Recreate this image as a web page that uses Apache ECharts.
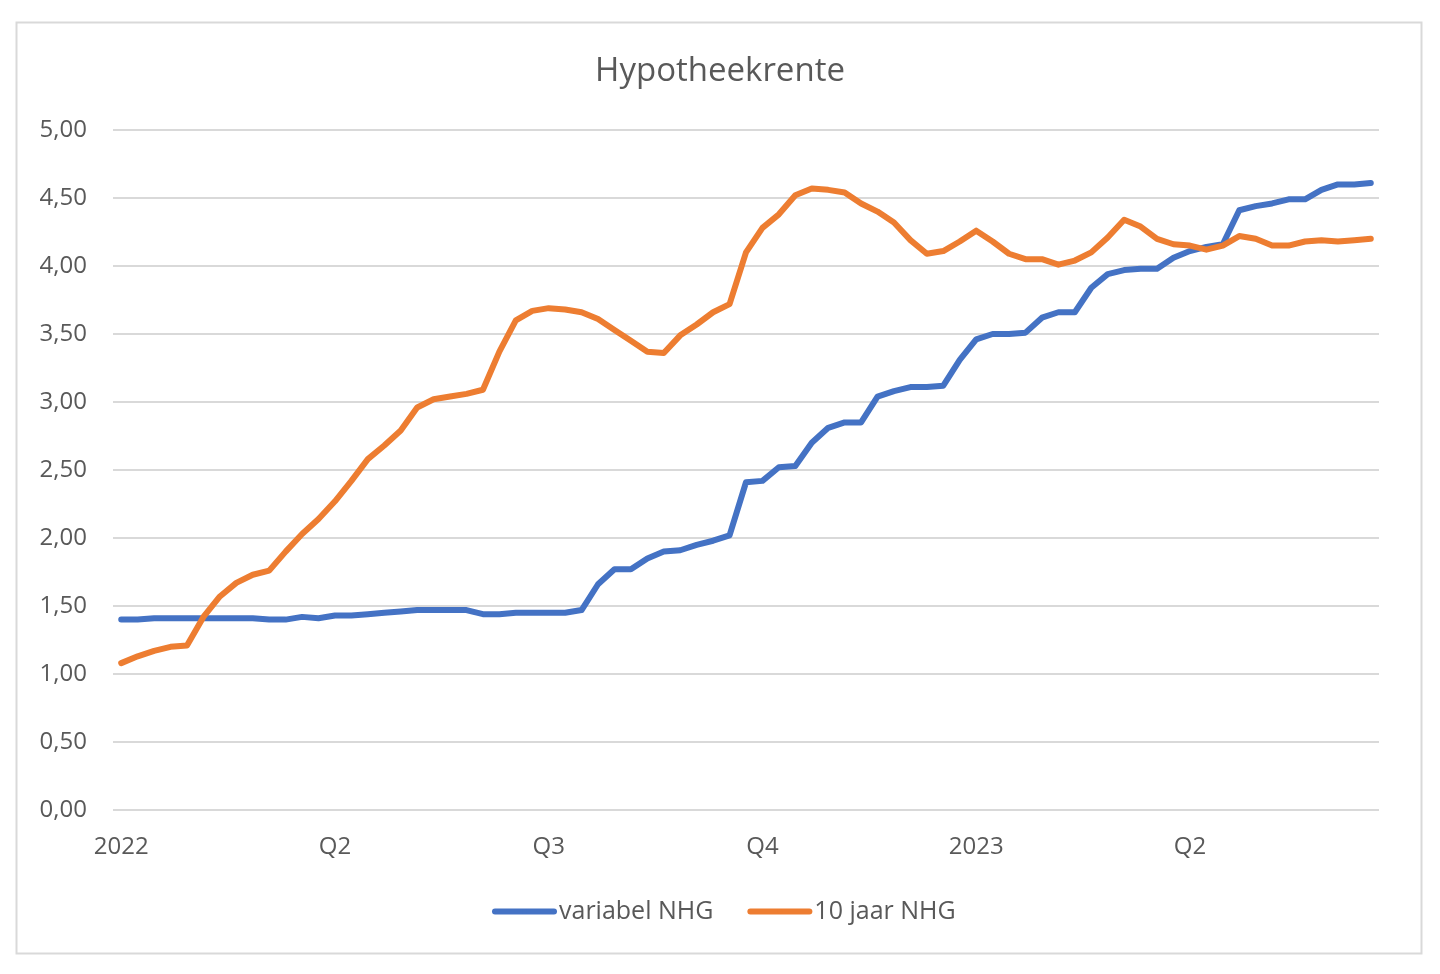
<!DOCTYPE html>
<html>
<head>
<meta charset="utf-8">
<title>Hypotheekrente</title>
<script src="https://cdn.jsdelivr.net/npm/echarts@6/dist/echarts.min.js"></script>
<style>
	html, body { margin: 0; padding: 0; background: #fff; }
	#chart { width: 1440px; height: 974px; }
</style>
</head>
<body>
<div id="chart"></div>
<script>
// tick labels, one per quarter (13 weeks apart)
const quarterLabels = ['2022', 'Q2', 'Q3', 'Q4', '2023', 'Q2']
const weeksPerQuarter = 13

// weekly rates
const variabelNHG = [
	1.40, 1.40, 1.41, 1.41, 1.41, 1.41, 1.41, 1.41, 1.41, 1.40,
	1.40, 1.42, 1.41, 1.43, 1.43, 1.44, 1.45, 1.46, 1.47, 1.47,
	1.47, 1.47, 1.44, 1.44, 1.45, 1.45, 1.45, 1.45, 1.47, 1.66,
	1.77, 1.77, 1.85, 1.90, 1.91, 1.95, 1.98, 2.02, 2.41, 2.42,
	2.52, 2.53, 2.70, 2.81, 2.85, 2.85, 3.04, 3.08, 3.11, 3.11,
	3.12, 3.31, 3.46, 3.50, 3.50, 3.51, 3.62, 3.66, 3.66, 3.84,
	3.94, 3.97, 3.98, 3.98, 4.06, 4.11, 4.14, 4.16, 4.41, 4.44,
	4.46, 4.49, 4.49, 4.56, 4.60, 4.60, 4.61
]
const tienJaarNHG = [
	1.08, 1.13, 1.17, 1.20, 1.21, 1.42, 1.57, 1.67, 1.73, 1.76,
	1.90, 2.03, 2.14, 2.27, 2.42, 2.58, 2.68, 2.79, 2.96, 3.02,
	3.04, 3.06, 3.09, 3.37, 3.60, 3.67, 3.69, 3.68, 3.66, 3.61,
	3.53, 3.45, 3.37, 3.36, 3.49, 3.57, 3.66, 3.72, 4.10, 4.28,
	4.38, 4.52, 4.57, 4.56, 4.54, 4.46, 4.40, 4.32, 4.19, 4.09,
	4.11, 4.18, 4.26, 4.18, 4.09, 4.05, 4.05, 4.01, 4.04, 4.10,
	4.21, 4.34, 4.29, 4.20, 4.16, 4.15, 4.12, 4.15, 4.22, 4.20,
	4.15, 4.15, 4.18, 4.19, 4.18, 4.19, 4.20
]

// one category per week
const weeks = variabelNHG.map((_, i) => 'week ' + (i + 1))

const textColor = '#595959'
const gridColor = '#d9d9d9'
const font = '"Open Sans", "Liberation Sans", sans-serif'

const chart = echarts.init(document.getElementById('chart'))

chart.setOption({
	backgroundColor: '#fff',
	animation: false,
	textStyle: { fontFamily: font },
	title: {
		text: 'Hypotheekrente',
		left: 'center',
		top: 50,
		textStyle: { fontFamily: font, fontSize: 33, fontWeight: 'normal', color: textColor }
	},
	legend: {
		left: 487,
		top: 894,
		itemWidth: 59,
		itemHeight: 6,
		itemGap: 34,
		lineStyle: { width: 6, cap: 'round' },
		textStyle: { fontFamily: font, fontSize: 25, color: textColor }
	},
	grid: { left: 113, right: 61, top: 130, bottom: 164 },
	xAxis: {
		type: 'category',
		data: weeks,
		boundaryGap: true,
		axisLine: { show: false },
		axisTick: { show: false },
		axisLabel: {
			interval: (i) => i % weeksPerQuarter === 0,
			formatter: (v, i) => quarterLabels[i / weeksPerQuarter] || '',
			margin: 25,
			fontSize: 24,
			color: textColor,
			fontFamily: font
		},
		splitLine: { show: false }
	},
	yAxis: {
		type: 'value',
		min: 0,
		max: 5,
		interval: 0.5,
		axisLine: { show: false },
		axisTick: { show: false },
		axisLabel: {
			formatter: (v) => v.toFixed(2).replace('.', ','),
			margin: 26,
			fontSize: 24,
			color: textColor,
			fontFamily: font
		},
		splitLine: { lineStyle: { color: gridColor, width: 2 } }
	},
	series: [
		{
			name: 'variabel NHG',
			type: 'line',
			data: variabelNHG,
			showSymbol: false,
			symbol: 'none',
			color: '#4472C4',
			lineStyle: { width: 6, cap: 'round', join: 'round' }
		},
		{
			name: '10 jaar NHG',
			type: 'line',
			data: tienJaarNHG,
			showSymbol: false,
			symbol: 'none',
			color: '#ED7D31',
			lineStyle: { width: 6, cap: 'round', join: 'round' }
		}
	],
	graphic: [
		{
			type: 'rect',
			silent: true,
			shape: { x: 16.5, y: 22.5, width: 1405, height: 931 },
			style: { fill: 'none', stroke: gridColor, lineWidth: 2 }
		}
	]
})
</script>
</body>
</html>
